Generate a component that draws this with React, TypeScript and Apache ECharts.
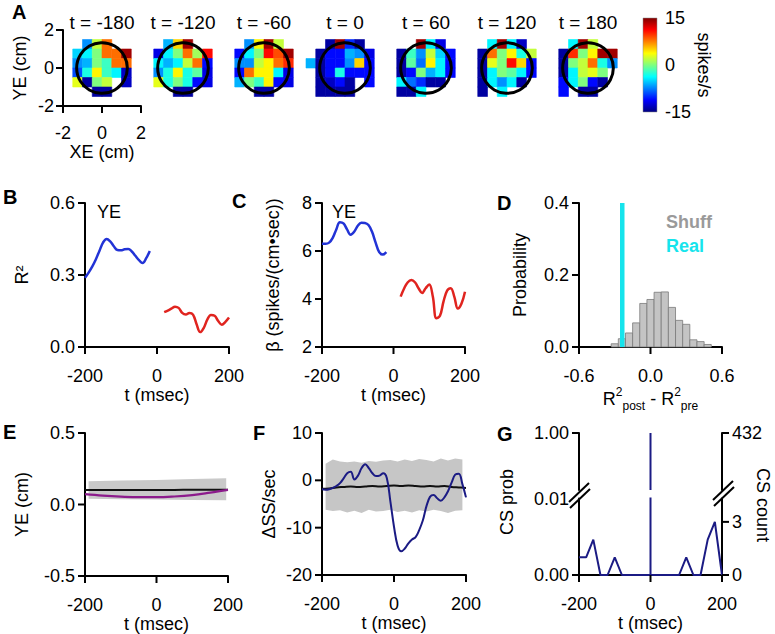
import React, { useEffect, useRef } from 'react';
import * as echarts from 'echarts';

// ---------- DATA ----------
const HEAT_TIMES = [-180, -120, -60, 0, 60, 120, 180];
const HEAT_X = [-1.75, -1.25, -0.75, -0.25, 0.25, 0.75, 1.25];
const HEAT_Y = [1.25, 0.75, 0.25, -0.25, -0.75, -1.25];
const N = null;
const HM_M180 = [
  [N, N, -7, 2, 8, N, N],
  [N, -5, -4, 0, 8, 8, 14],
  [N, -7, -6, 0, -2, 8, 8],
  [N, -9, -3, 4, -2, -4, -13],
  [N, 3, -14, 0, 2, N, -13],
  [N, N, N, -14, -14, N, N],
];
const HM_M120 = [
  [N, N, -6, 5, 14, N, N],
  [N, -12, -4, 0, 8, 1, 11],
  [N, -4, -6, -4, 2, 8, -11],
  [N, -7, -3, 4, -3, -1, -12],
  [N, 3, -3, 0, -3, -11, -12],
  [N, N, N, -14, -14, N, N],
];
const HM_M60 = [
  [N, N, -7, 4, 14, 2, N],
  [N, -11, -4, 0, 11, 9, 14],
  [N, -7, -7, 2, 4, 8, 10],
  [N, -11, 8, 4, 4, -4, -12],
  [N, -6, 0, -2, 4, -11, -12],
  [N, N, N, -14, -14, N, N],
];
const HM_0 = [
  [N, N, -14, 14, -10, -14, N],
  [N, -14, -11, -11, -6, -7, -12],
  [-6, -14, -11, -11, -7, 5, -11],
  [N, -14, -11, -3, -11, -11, -11],
  [N, -14, -13, -11, -14, N, -11],
  [N, -14, -14, -14, -14, N, N],
];
const HM_60 = [
  [N, N, N, 14, -4, -12, N],
  [N, -14, -2, -7, 2, -5, -11],
  [N, -14, -1, -8, 4, -4, -11],
  [N, -14, -11, 0, -6, -4, -11],
  [N, -4, -8, -10, -14, -14, N],
  [N, -14, -14, -4, N, N, N],
];
const HM_120 = [
  [N, N, -4, 14, -4, -13, N],
  [N, -14, 8, 0, 4, -3, 2],
  [N, -14, 3, 0, 11, 5, -11],
  [N, -14, -4, 0, -1, -4, -11],
  [N, -14, -4, -7, -4, -14, N],
  [N, -14, N, -4, N, N, N],
];
const HM_180 = [
  [N, N, -4, 14, 2, N, N],
  [N, -14, 10, 0, 4, 14, 14],
  [N, -14, 0, 2, 8, -3, -7],
  [N, -14, -4, 2, 3, 0, N],
  [N, -11, -4, 0, -11, -14, N],
  [N, -11, N, -14, -14, N, N],
];
const HEAT_MAPS = [HM_M180, HM_M120, HM_M60, HM_0, HM_60, HM_120, HM_180];
const CELL = 0.5;
const RF_RADIUS = 1.3;
const CBAR_RANGE = [-15, 15];
const A_TICKS = [-2, 0, 2];

const T_TICKS = [-200, 0, 200];
const B_YTICKS = [0, 0.3, 0.6];
const C_YTICKS = [2, 4, 6, 8];
const D_XTICKS = [-0.6, 0, 0.6];
const D_YTICKS = [0, 0.2, 0.4];
const E_YTICKS = [-0.5, 0, 0.5];
const F_YTICKS = [-20, -10, 0, 10];

const B_PRE_T = [-200, -190, -180, -170, -160, -150, -140, -130, -120, -110, -100, -90, -80, -70, -60, -50, -40, -30, -20];
const B_PRE = [0.288, 0.31, 0.335, 0.365, 0.4, 0.435, 0.45, 0.44, 0.42, 0.404, 0.403, 0.407, 0.408, 0.398, 0.38, 0.362, 0.35, 0.37, 0.4];
const B_POST_T = [20, 30, 40, 50, 60, 70, 80, 90, 100, 110, 120, 130, 140, 150, 160, 170, 180, 190, 200];
const B_POST = [0.145, 0.152, 0.16, 0.168, 0.163, 0.142, 0.135, 0.142, 0.135, 0.095, 0.062, 0.08, 0.115, 0.133, 0.13, 0.108, 0.093, 0.105, 0.123];

const C_PRE = [6.3, 6.3, 6.35, 6.55, 6.9, 7.2, 7.15, 6.9, 6.68, 6.8, 7.05, 7.18, 7.17, 7.08, 6.8, 6.35, 5.95, 5.85, 5.95];
const C_POST = [4.1, 4.45, 4.7, 4.79, 4.7, 4.45, 4.25, 4.45, 4.6, 4.1, 3.2, 3.3, 3.9, 4.35, 4.45, 4.1, 3.6, 3.8, 4.3];

const D_BINS = [-0.3, -0.24, -0.18, -0.12, -0.06, 0.0, 0.06, 0.12, 0.18, 0.24, 0.3, 0.36, 0.42, 0.48];
const D_PROB = [0.009, 0.023, 0.039, 0.067, 0.121, 0.132, 0.152, 0.153, 0.11, 0.074, 0.063, 0.02, 0.015, 0.007];
const D_BIN_WIDTH = 0.06;
const D_REAL = -0.237;

const E_T = [-200, -150, -100, -50, 0, 50, 100, 150, 200];
const E_MEAN = [0.102, 0.102, 0.102, 0.102, 0.102, 0.102, 0.103, 0.103, 0.103];
const E_CELL = [0.072, 0.062, 0.055, 0.051, 0.051, 0.056, 0.066, 0.083, 0.102];
const E_BAND_T = [-190, -100, 0, 100, 195];
const E_BAND_HI = [0.163, 0.168, 0.172, 0.178, 0.184];
const E_BAND_LO = [0.04, 0.037, 0.035, 0.032, 0.03];

const F_T = [-200, -190, -180, -170, -160, -150, -140, -130, -120, -110, -100, -90, -80, -70, -60, -50, -40, -30, -20, -10, 0,
  10, 20, 30, 40, 50, 60, 70, 80, 90, 100, 110, 120, 130, 140, 150, 160, 170, 180, 190, 200];
const F_CELL = [-1.9, -2.0, -1.9, -1.6, -1.2, -0.6, 0.4, 1.5, 1.8, 0.2, 1.0, 2.6, 3.4, 2.6, 1.5, 0.9, 1.0, 1.5, 0.5, -4.5, -9.8,
  -13.8, -15.0, -14.4, -13.3, -12.5, -12.0, -10.5, -8.5, -5.5, -3.5, -3.1, -3.8, -4.3, -3.6, -2.3, -0.5, 1.2, 1.4, -0.8, -3.6];
const F_MEAN_T = [-200, -180, -160, -140, -120, -100, -80, -60, -40, -20, 0, 20, 40, 60, 80, 100, 120, 140, 160, 180, 200];
const F_MEAN = [-1.8, -1.7, -1.5, -1.4, -1.3, -1.4, -1.3, -1.2, -1.3, -1.2, -1.1, -1.2, -1.1, -1.2, -1.3, -1.2, -1.3, -1.2, -1.4, -1.5, -1.6];
const F_BAND_T = [-190, -170, -150, -130, -110, -90, -70, -50, -30, -10, 10, 30, 50, 70, 90, 110, 130, 150, 170, 190];
const F_BAND_HI = [3.5, 4.4, 4.0, 3.8, 4.0, 3.7, 4.1, 3.9, 4.2, 4.3, 4.0, 4.4, 4.1, 4.5, 4.3, 4.0, 4.6, 4.2, 4.6, 4.4];
const F_BAND_LO = [-6.2, -6.5, -6.3, -6.8, -6.4, -6.9, -6.2, -6.6, -6.5, -6.2, -6.7, -6.4, -6.8, -6.3, -6.6, -6.2, -6.5, -6.9, -6.4, -6.3];

const G_T = [-200, -180, -160, -140, -120, -100, -80, -60, -40, -20, 0, 20, 40, 60, 80, 100, 120, 140, 160, 180, 200];
const G_COUNT = [1, 1, 2, 0, 0, 1, 0, 0, 0, 0, 432, 0, 0, 0, 0, 1, 0, 0, 2, 3, 0];
const N_TRIALS = 432;
const G_BREAK_PROB = 0.01;
const G_COUNT_TICKS = [0, 3];

// ---------- STYLE ----------
const FONT = '"Liberation Sans", Arial, Helvetica, sans-serif';
const FS = 18;
const JET = ['#00007f', '#0000ff', '#007fff', '#00ffff', '#7fff7f', '#ffff00', '#ff7f00', '#ff0000', '#7f0000'];
const BLUE = '#2233d6';
const RED = '#e0241f';
const NAVY = '#1b1b84';
const PURPLE = '#8c1b8c';
const CYAN = '#16e4ec';
const TICK_LEN = 7;
const TICK_W = 2;

const HEAT_LEFT = 63, HEAT_STEP = 81, HEAT_TOP = 30, HEAT_W = 78, HEAT_H = 76;

const axisLineStyle = { show: true, onZero: false, lineStyle: { color: '#000', width: 2 } };
const noTick = { show: false };
const lbl = (margin: number, fmt?: (v: number) => string) => ({
  show: true, color: '#000', fontSize: FS, fontFamily: FONT, margin, formatter: fmt,
});
const nameStyle = { color: '#000', fontSize: FS, fontFamily: FONT };

function xAx(gi: number, min: number, max: number, interval: number, name: string, fmt?: (v: number) => string, extra: any = {}) {
  return {
    type: 'value', gridIndex: gi, min, max, interval,
    axisLine: axisLineStyle, axisTick: noTick, axisLabel: lbl(20, fmt), splitLine: { show: false },
    name, nameLocation: 'middle', nameGap: 36, nameTextStyle: nameStyle, ...extra,
  };
}
function yAx(gi: number, min: number, max: number, interval: number, name: string, gap: number, fmt?: (v: number) => string, extra: any = {}) {
  return {
    type: 'value', gridIndex: gi, min, max, interval,
    axisLine: axisLineStyle, axisTick: noTick, axisLabel: lbl(10, fmt), splitLine: { show: false },
    name, nameLocation: 'middle', nameGap: gap, nameTextStyle: nameStyle, ...extra,
  };
}
const hidden = (gi: number, min: number, max: number) => ({ type: 'value', gridIndex: gi, min, max, show: false });
type GridBox = { left: number; top: number; width: number; height: number };
const GRIDS: GridBox[] = [];
const grid = (left: number, top: number, width: number, height: number) => {
  GRIDS.push({ left, top, width, height });
  return { left, top, width, height, containLabel: false, outerBoundsMode: 'none' };
};

// tick specs: placed through the axes' own scales (chart.convertToPixel)
type TickSpec = { xi: number; yi: number; axis: 'x' | 'y'; at: number; values: number[]; dir: number };
const TICKS: TickSpec[] = [];

function txt(x: number, y: number, text: string, o: any = {}) {
  return {
    type: 'text', x, y, rotation: o.rotation || 0, silent: true,
    style: {
      text, fill: o.fill || '#000', fontSize: o.fontSize || FS, fontFamily: FONT, fontWeight: o.fontWeight || 'normal',
      textAlign: o.align || 'left', align: o.align || 'left', textVerticalAlign: 'middle', verticalAlign: 'middle',
    },
  };
}
function seg(x1: number, y1: number, x2: number, y2: number) {
  return { type: 'line', silent: true, z: 50, shape: { x1, y1, x2, y2 }, style: { stroke: '#000', lineWidth: 2 } };
}
function bar(x: number, y: number, w: number, h: number) {
  return { type: 'rect', silent: true, z: 60, shape: { x, y, width: w, height: h }, style: { fill: '#000' } };
}

function bandRender(ts: number[], hi: number[], lo: number[], fill: string) {
  return (params: any, api: any) => {
    if (params.dataIndex !== 0) return null;
    const pts: number[][] = [];
    ts.forEach((t, i) => pts.push(api.coord([t, hi[i]])));
    for (let i = ts.length - 1; i >= 0; i--) pts.push(api.coord([ts[i], lo[i]]));
    return { type: 'polygon', shape: { points: pts }, style: { fill } };
  };
}

const pairs = (ts: number[], vs: number[]) => ts.map((t, i) => [t, vs[i]]);

function buildOption() {
  const xAxes: any[] = [];
  const yAxes: any[] = [];
  const grids: any[] = [];
  const series: any[] = [];
  const graphics: any[] = [];
  TICKS.length = 0;
  GRIDS.length = 0;
  const addTicks = (xi: number, yi: number, specs: Omit<TickSpec, 'xi' | 'yi'>[]) => specs.forEach((s) => TICKS.push({ xi, yi, ...s }));

  // Panel A heatmaps (grids 0..6)
  HEAT_TIMES.forEach((t, i) => {
    grids.push(grid(HEAT_LEFT + i * HEAT_STEP, HEAT_TOP, HEAT_W, HEAT_H));
    if (i === 0) {
      xAxes.push({ ...xAx(i, -2, 2, 2, 'XE (cm)'), axisLabel: lbl(18), nameGap: 33 });
      yAxes.push({ ...yAx(i, -2, 2, 2, 'YE (cm)', 34), axisLabel: lbl(9) });
    } else {
      xAxes.push(hidden(i, -2, 2));
      yAxes.push(hidden(i, -2, 2));
    }
    const cells: number[][] = [];
    HEAT_MAPS[i].forEach((row, r) => row.forEach((v, c) => { if (v !== null) cells.push([HEAT_X[c], HEAT_Y[r], v as number]); }));
    series.push({
      type: 'custom', coordinateSystem: 'cartesian2d', xAxisIndex: i, yAxisIndex: i, data: cells,
      encode: { x: 0, y: 1 },
      renderItem: (p: any, api: any) => {
        const x = api.value(0), y = api.value(1);
        const a = api.coord([x - CELL / 2, y + CELL / 2]);
        const b = api.coord([x + CELL / 2, y - CELL / 2]);
        const col = api.visual('color');
        return { type: 'rect', shape: { x: a[0], y: a[1], width: b[0] - a[0], height: b[1] - a[1] }, style: { fill: col, stroke: col, lineWidth: 0.6 } };
      },
    });
    graphics.push(txt(HEAT_LEFT + i * HEAT_STEP + HEAT_W / 2, 22, `t = ${t}`, { align: 'center', fontSize: 19 }));
  });
  // circles
  HEAT_TIMES.forEach((_, i) => {
    series.push({
      type: 'custom', coordinateSystem: 'cartesian2d', xAxisIndex: i, yAxisIndex: i, data: [[0, 0, RF_RADIUS]],
      encode: { x: 0, y: 1 },
      renderItem: (p: any, api: any) => {
        const c = api.coord([api.value(0), api.value(1)]);
        const r = api.size([api.value(2), 0])[0];
        return { type: 'circle', shape: { cx: c[0], cy: c[1], r }, style: { fill: 'none', stroke: '#000', lineWidth: 3 } };
      },
    });
  });
  addTicks(0, 0, [
    { axis: 'x', at: -2, values: A_TICKS, dir: 1 },
    { axis: 'y', at: -2, values: A_TICKS, dir: 1 },
  ]);

  // Colorbar grid 7
  grids.push(grid(643, 18, 14, 94));
  xAxes.push(hidden(7, 0, 1));
  yAxes.push({
    type: 'value', gridIndex: 7, position: 'right', min: CBAR_RANGE[0], max: CBAR_RANGE[1], interval: 15,
    axisLine: { show: false }, axisTick: { show: false }, splitLine: { show: false }, axisLabel: lbl(8),
    name: 'spikes/s', nameLocation: 'middle', nameRotate: -90, nameGap: 34, nameTextStyle: nameStyle,
  });
  series.push({
    type: 'custom', coordinateSystem: 'cartesian2d', xAxisIndex: 7, yAxisIndex: 7, data: [[0, CBAR_RANGE[0], CBAR_RANGE[1]]],
    encode: { x: 0, y: 1 },
    renderItem: (p: any, api: any) => {
      const a = api.coord([0, api.value(2)]);
      const b = api.coord([1, api.value(1)]);
      return {
        type: 'rect', shape: { x: a[0], y: a[1], width: b[0] - a[0], height: b[1] - a[1] },
        style: {
          fill: { type: 'linear', x: 0, y: 1, x2: 0, y2: 0, colorStops: JET.map((c, k) => ({ offset: k / (JET.length - 1), color: c })) },
          stroke: '#888', lineWidth: 0.5,
        },
      };
    },
  });

  const fmt1 = (v: number) => v.toFixed(1);
  const fmt2 = (v: number) => v.toFixed(2);

  // B grid 8
  grids.push(grid(85, 203, 144, 144));
  xAxes.push(xAx(8, -200, 200, 200, 't (msec)'));
  yAxes.push(yAx(8, 0, 0.6, 0.3, 'R²', 54, fmt1));
  series.push({ type: 'line', xAxisIndex: 8, yAxisIndex: 8, data: pairs(B_PRE_T, B_PRE), showSymbol: false, symbol: 'none', smooth: 0.4, lineStyle: { color: BLUE, width: 2.5 } });
  series.push({ type: 'line', xAxisIndex: 8, yAxisIndex: 8, data: pairs(B_POST_T, B_POST), showSymbol: false, symbol: 'none', smooth: 0.4, lineStyle: { color: RED, width: 2.5 } });
  addTicks(8, 8, [
    { axis: 'x', at: 0, values: T_TICKS, dir: 1 },
    { axis: 'y', at: -200, values: B_YTICKS, dir: 1 },
  ]);

  // C grid 9
  grids.push(grid(322, 203, 143, 144));
  xAxes.push(xAx(9, -200, 200, 200, 't (msec)'));
  yAxes.push(yAx(9, 2, 8, 2, 'β (spikes/(cm•sec))', 40));
  series.push({ type: 'line', xAxisIndex: 9, yAxisIndex: 9, data: pairs(B_PRE_T, C_PRE), showSymbol: false, symbol: 'none', smooth: 0.4, lineStyle: { color: BLUE, width: 2.5 } });
  series.push({ type: 'line', xAxisIndex: 9, yAxisIndex: 9, data: pairs(B_POST_T, C_POST), showSymbol: false, symbol: 'none', smooth: 0.4, lineStyle: { color: RED, width: 2.5 } });
  addTicks(9, 9, [
    { axis: 'x', at: 2, values: T_TICKS, dir: 1 },
    { axis: 'y', at: -200, values: C_YTICKS, dir: 1 },
  ]);

  // D grid 10
  grids.push(grid(579, 203, 143, 144));
  xAxes.push({
    ...xAx(10, -0.6, 0.6, 0.6, '{r|R}{sup|2}{sub|post}{r| - R}{sup|2}{sub|pre}', fmt1),
    nameGap: 28,
    nameTextStyle: {
      ...nameStyle,
      rich: {
        r: { fontSize: FS, fontFamily: FONT, color: '#000', lineHeight: 26, verticalAlign: 'middle' },
        sup: { fontSize: 12, fontFamily: FONT, color: '#000', lineHeight: 12, verticalAlign: 'top' },
        sub: { fontSize: 12, fontFamily: FONT, color: '#000', lineHeight: 12, verticalAlign: 'bottom' },
      },
    },
  });
  yAxes.push(yAx(10, 0, 0.4, 0.2, 'Probability', 50, fmt1));
  series.push({
    type: 'custom', coordinateSystem: 'cartesian2d', xAxisIndex: 10, yAxisIndex: 10, data: pairs(D_BINS, D_PROB),
    encode: { x: 0, y: 1 },
    renderItem: (p: any, api: any) => {
      const a = api.coord([api.value(0) - D_BIN_WIDTH / 2, api.value(1)]);
      const b = api.coord([api.value(0) + D_BIN_WIDTH / 2, 0]);
      return { type: 'rect', shape: { x: a[0], y: a[1], width: b[0] - a[0], height: b[1] - a[1] }, style: { fill: '#c4c4c4', stroke: '#7a7a7a', lineWidth: 0.8 } };
    },
  });
  series.push({ type: 'line', xAxisIndex: 10, yAxisIndex: 10, data: [[D_REAL, 0], [D_REAL, 0.4]], showSymbol: false, symbol: 'none', lineStyle: { color: CYAN, width: 4.5 } });
  addTicks(10, 10, [
    { axis: 'x', at: 0, values: D_XTICKS, dir: 1 },
    { axis: 'y', at: -0.6, values: D_YTICKS, dir: 1 },
  ]);

  // E grid 11
  grids.push(grid(85, 433, 143, 143));
  xAxes.push(xAx(11, -200, 200, 200, 't (msec)'));
  yAxes.push(yAx(11, -0.5, 0.5, 0.5, 'YE (cm)', 54, fmt1));
  series.push({ type: 'custom', coordinateSystem: 'cartesian2d', xAxisIndex: 11, yAxisIndex: 11, data: [[0, 0]], encode: { x: 0, y: 1 }, renderItem: bandRender(E_BAND_T, E_BAND_HI, E_BAND_LO, '#c9c9c9') });
  series.push({ type: 'line', xAxisIndex: 11, yAxisIndex: 11, data: pairs(E_T, E_MEAN), showSymbol: false, symbol: 'none', smooth: 0.4, lineStyle: { color: '#111', width: 2 } });
  series.push({ type: 'line', xAxisIndex: 11, yAxisIndex: 11, data: pairs(E_T, E_CELL), showSymbol: false, symbol: 'none', smooth: 0.4, lineStyle: { color: PURPLE, width: 2.2 } });
  addTicks(11, 11, [
    { axis: 'x', at: -0.5, values: T_TICKS, dir: 1 },
    { axis: 'y', at: -200, values: E_YTICKS, dir: 1 },
  ]);

  // F grid 12
  grids.push(grid(322, 433, 144, 142));
  xAxes.push(xAx(12, -200, 200, 200, 't (msec)'));
  yAxes.push(yAx(12, -20, 10, 10, 'ΔSS/sec', 44));
  series.push({ type: 'custom', coordinateSystem: 'cartesian2d', xAxisIndex: 12, yAxisIndex: 12, data: [[0, 0]], encode: { x: 0, y: 1 }, renderItem: bandRender(F_BAND_T, F_BAND_HI, F_BAND_LO, '#c6c6c6') });
  series.push({ type: 'line', xAxisIndex: 12, yAxisIndex: 12, data: pairs(F_MEAN_T, F_MEAN), showSymbol: false, symbol: 'none', smooth: 0.4, lineStyle: { color: '#111', width: 2 } });
  series.push({ type: 'line', xAxisIndex: 12, yAxisIndex: 12, data: pairs(F_T, F_CELL), showSymbol: false, symbol: 'none', smooth: 0.4, lineStyle: { color: NAVY, width: 2 } });
  addTicks(12, 12, [
    { axis: 'x', at: -20, values: T_TICKS, dir: 1 },
    { axis: 'y', at: -200, values: F_YTICKS, dir: 1 },
  ]);

  // G lower grid 13, upper grid 14
  const breakCount = G_BREAK_PROB * N_TRIALS;
  grids.push(grid(579, 498.5, 143, 76.5));
  grids.push(grid(579, 433, 143, 57));
  xAxes.push(xAx(13, -200, 200, 200, 't (msec)'));
  xAxes.push(hidden(14, -200, 200));
  // yAxes: 13 lower-left prob, 14 lower-right count, 15 upper-left prob, 16 upper-right count
  yAxes.push({
    ...yAx(13, 0, G_BREAK_PROB, G_BREAK_PROB, '', 0, fmt2),
    axisLabel: { ...lbl(10, fmt2), customValues: [0, G_BREAK_PROB] },
  });
  yAxes.push({
    ...yAx(13, 0, breakCount, 1, '', 0), position: 'right',
    axisLabel: { ...lbl(10), customValues: G_COUNT_TICKS },
  });
  yAxes.push({
    ...yAx(14, G_BREAK_PROB, 1, 1, '', 0, fmt2),
    axisLabel: { ...lbl(10, fmt2), customValues: [1] },
  });
  yAxes.push({
    ...yAx(14, breakCount, N_TRIALS, 100, '', 0), position: 'right',
    axisLabel: { ...lbl(10), customValues: [N_TRIALS] },
  });
  const gLow: number[][] = [];
  const gUp: number[][] = [];
  G_T.forEach((t, i) => {
    const c = G_COUNT[i];
    if (c > breakCount) {
      gLow.push([t, 0], [t, c], [t, 0]);
      gUp.push([t, breakCount], [t, c]);
    } else gLow.push([t, c]);
  });
  series.push({ type: 'line', xAxisIndex: 13, yAxisIndex: 14, data: gLow, showSymbol: false, symbol: 'none', clip: true, lineStyle: { color: NAVY, width: 2 } });
  series.push({ type: 'line', xAxisIndex: 14, yAxisIndex: 16, data: gUp, showSymbol: false, symbol: 'none', clip: true, lineStyle: { color: NAVY, width: 2 } });
  addTicks(13, 14, [
    { axis: 'x', at: 0, values: T_TICKS, dir: 1 },
    { axis: 'y', at: -200, values: [0], dir: 1 },
    { axis: 'y', at: 200, values: G_COUNT_TICKS, dir: -1 },
  ]);
  addTicks(14, 16, [
    { axis: 'y', at: -200, values: [N_TRIALS], dir: 1 },
    { axis: 'y', at: 200, values: [N_TRIALS], dir: -1 },
  ]);

  // labels
  graphics.push(txt(12, 12, 'A', { fontWeight: 'bold', fontSize: 20 }));
  graphics.push(txt(3, 197, 'B', { fontWeight: 'bold', fontSize: 20 }));
  graphics.push(txt(232, 201, 'C', { fontWeight: 'bold', fontSize: 20 }));
  graphics.push(txt(497, 203, 'D', { fontWeight: 'bold', fontSize: 20 }));
  graphics.push(txt(3, 432, 'E', { fontWeight: 'bold', fontSize: 20 }));
  graphics.push(txt(253, 433, 'F', { fontWeight: 'bold', fontSize: 20 }));
  graphics.push(txt(497, 434, 'G', { fontWeight: 'bold', fontSize: 20 }));
  graphics.push(txt(97, 212, 'YE'));
  graphics.push(txt(332, 212, 'YE'));
  graphics.push(txt(666, 222, 'Shuff', { fontWeight: 'bold', fill: '#9a9a9a' }));
  graphics.push(txt(666, 246, 'Real', { fontWeight: 'bold', fill: CYAN }));
  graphics.push(txt(507, 502, 'CS prob', { align: 'center', rotation: Math.PI / 2 }));
  graphics.push(txt(763, 505, 'CS count', { align: 'center', rotation: -Math.PI / 2 }));
  // axis break marks
  graphics.push(seg(569, 502, 589, 483), seg(570, 508, 590, 489));
  graphics.push(seg(713, 500, 733, 481), seg(714, 506, 734, 487));

  const option = {
    animation: false,
    backgroundColor: '#fff',
    textStyle: { fontFamily: FONT },
    grid: grids,
    xAxis: xAxes,
    yAxis: yAxes,
    visualMap: {
      type: 'continuous', show: false, min: CBAR_RANGE[0], max: CBAR_RANGE[1], dimension: 2,
      seriesIndex: HEAT_TIMES.map((_, i) => i), inRange: { color: JET },
    },
    series,
  };
  return { option, graphics, xAxes, yAxes };
}

export default function App() {
  const ref = useRef<HTMLDivElement>(null);
  useEffect(() => {
    document.body.style.margin = '0';
    if (!ref.current) return;
    const chart = echarts.init(ref.current, null, { renderer: 'svg' });
    const { option, graphics, xAxes, yAxes } = buildOption();
    chart.setOption(option as any);
    // pixel of a value on an axis: the library's conversion, with the grid's linear map as a fallback
    const px = (isX: boolean, ai: number, v: number): number => {
      let r: any;
      try { r = chart.convertToPixel((isX ? { xAxisIndex: ai } : { yAxisIndex: ai }) as any, v as any); } catch (e) { r = undefined; }
      if (typeof r === 'number' && isFinite(r)) return r;
      const ax = isX ? xAxes[ai] : yAxes[ai];
      const g = GRIDS[ax.gridIndex];
      const f = (v - ax.min) / (ax.max - ax.min);
      return isX ? g.left + f * g.width : g.top + g.height - f * g.height;
    };
    const tickMarks: any[] = [];
    TICKS.forEach((s) => s.values.forEach((v) => {
      if (s.axis === 'x') {
        const x = px(true, s.xi, v), y = px(false, s.yi, s.at);
        const y0 = s.dir > 0 ? y : y - TICK_LEN;
        tickMarks.push(bar(x - TICK_W / 2, y0, TICK_W, TICK_LEN));
      } else {
        const x = px(true, s.xi, s.at), y = px(false, s.yi, v);
        const x0 = s.dir > 0 ? x - TICK_LEN : x;
        tickMarks.push(bar(x0, y - TICK_W / 2, TICK_LEN, TICK_W));
      }
    }));
    chart.setOption({ graphic: { elements: [...graphics, ...tickMarks] } } as any);
    return () => chart.dispose();
  }, []);
  return <div ref={ref} style={{ width: 775, height: 634, position: 'absolute', left: 0, top: 0 }} />;
}
